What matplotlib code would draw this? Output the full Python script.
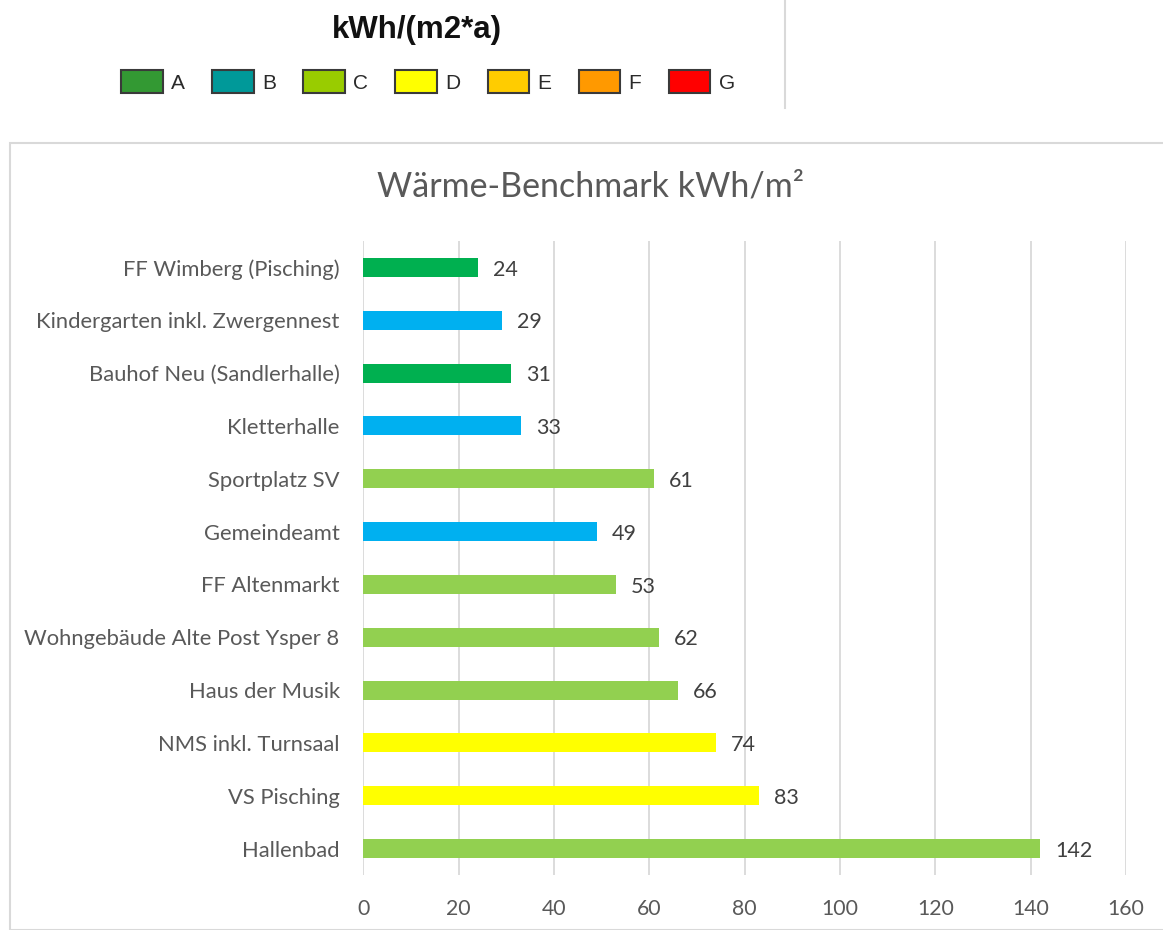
import matplotlib.pyplot as plt
from matplotlib.patches import Patch, Rectangle
from matplotlib.lines import Line2D

# buildings, top to bottom as in the chart
buildings = ['FF Wimberg (Pisching)', 'Kindergarten inkl. Zwergennest',
             'Bauhof Neu (Sandlerhalle)', 'Kletterhalle', 'Sportplatz SV',
             'Gemeindeamt', 'FF Altenmarkt', 'Wohngebäude Alte Post Ysper 8',
             'Haus der Musik', 'NMS inkl. Turnsaal', 'VS Pisching', 'Hallenbad']
values = [24, 29, 31, 33, 61, 49, 53, 62, 66, 74, 83, 142]
classes = ['A', 'B', 'A', 'B', 'C', 'B', 'C', 'C', 'C', 'D', 'D', 'C']

# energy classes of the legend on top
legend_labels = ['A', 'B', 'C', 'D', 'E', 'F', 'G']
legend_colors = ['#339933', '#009999', '#99CC00', '#FFFF00', '#FFCC00', '#FF9900', '#FF0000']
bar_colors = {'A': '#00B050', 'B': '#00B0F0', 'C': '#92D050', 'D': '#FFFF00'}

W, H = 1163, 930
fig = plt.figure(figsize=(W / 100, H / 100), dpi=100)
font = ['Lato', 'DejaVu Sans']

# frame of the chart area and the separator line at the top
fig.add_artist(Rectangle((10 / W, 0), 1.2, 1 - 143 / H, transform=fig.transFigure,
                         fill=False, edgecolor='#D9D9D9', lw=1.5))
fig.add_artist(Line2D([785 / W, 785 / W], [1, 1 - 108 / H], transform=fig.transFigure,
                      color='#D9D9D9', lw=1.5))

# legend on top
fig.text(417 / W, 1 - 30 / H, 'kWh/(m2*a)', ha='center', va='center',
         fontsize=22.5, fontweight='bold', family='Liberation Sans', color='#111111')
handles = [Patch(facecolor=c, edgecolor='#3a3a3a', lw=1.5, label=l)
           for l, c in zip(legend_labels, legend_colors)]
fig.legend(handles=handles, ncol=7, loc='center', bbox_to_anchor=(428 / W, 1 - 81.5 / H),
           frameon=False, prop={'family': 'Liberation Sans', 'size': 15},
           handlelength=2.0, handleheight=1.25, handletextpad=0.4,
           columnspacing=1.3, labelcolor='#2a2a2a', borderpad=0)

# bar chart
ax = fig.add_axes([363.3 / W, 1 - 875 / H, (1126 - 363.3) / W, (875 - 241) / H])
ypos = list(range(len(buildings)))
ax.barh(ypos, values, height=0.36, color=[bar_colors[c] for c in classes], zorder=3)
for y, v in zip(ypos, values):
    ax.annotate(str(v), (v, y), xytext=(11, -1.5), textcoords='offset points',
                va='center', ha='left', fontsize=15.5, color='#404040', family=font)

ax.set_ylim(len(buildings) - 0.5, -0.5)
ax.set_xlim(0, 160)
ax.set_xticks(range(0, 161, 20))
ax.set_yticks(ypos)
ax.set_yticklabels(buildings)
ax.grid(axis='x', color='#D9D9D9', lw=1.3, zorder=0)
for s in ax.spines.values():
    s.set_visible(False)
ax.tick_params(axis='y', length=0, pad=17, labelsize=15.8, labelcolor='#595959')
ax.tick_params(axis='x', length=0, pad=17, labelsize=15.3, labelcolor='#595959')
for lab in ax.get_xticklabels() + ax.get_yticklabels():
    lab.set_family(font)

fig.text(591 / W, 1 - 187 / H, 'Wärme-Benchmark kWh/m²', ha='center', va='center',
         fontsize=24.5, color='#595959', family=font)

fig.savefig('out.png', dpi=100)
